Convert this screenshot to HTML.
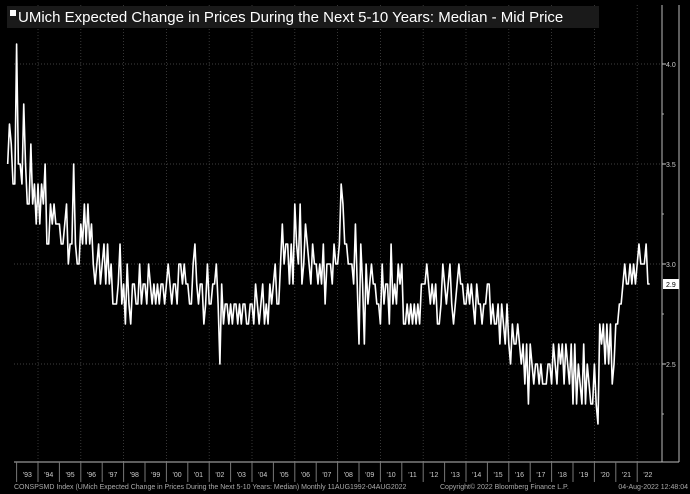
<!DOCTYPE html>
<html><head><meta charset="utf-8"><style>
html,body{margin:0;padding:0;background:#000;}
svg{display:block;font-family:"Liberation Sans",sans-serif;}
</style></head><body>
<svg id="chart" width="690" height="494" viewBox="0 0 690 494">
<rect x="0" y="0" width="690" height="494" fill="#000"/>
<g id="grid"></g>
<g id="axes"></g>
<path id="line" fill="none" stroke="#fff" stroke-width="1.6" stroke-linejoin="round"/>
<rect x="7" y="6" width="592" height="22" fill="#1a1a1a"/>
<rect x="10" y="10" width="6" height="6" fill="#fff"/>
<text x="18" y="22" fill="#fff" font-size="15">UMich Expected Change in Prices During the Next 5-10 Years: Median - Mid Price</text>
<text x="14" y="489" fill="#aaa" font-size="7">CONSPSMD Index (UMich Expected Change in Prices During the Next 5-10 Years: Median)  Monthly 11AUG1992-04AUG2022</text>
<text x="440" y="489" fill="#aaa" font-size="7">Copyright© 2022 Bloomberg Finance L.P.</text>
<text x="688" y="489" fill="#aaa" font-size="7" text-anchor="end">04-Aug-2022 12:48:04</text>
</svg>
<script>
const yTicks=[2.5,3.0,3.5,4.0];
const yTickLabels=["2.5","3.0","3.5","4.0"];
const yearLabels=["'93","'94","'95","'96","'97","'98","'99","'00","'01","'02","'03","'04","'05","'06","'07","'08","'09","'10","'11","'12","'13","'14","'15","'16","'17","'18","'19","'20","'21","'22"];
const startYear=1992, startMonth=7;
const values=[
3.5,3.7,3.6,3.4,3.4,
4.1,3.5,3.5,3.4,3.8,3.5,3.3,3.3,3.6,3.3,3.4,3.2,
3.4,3.2,3.4,3.3,3.5,3.1,3.1,3.3,3.2,3.3,3.2,3.2,
3.2,3.1,3.1,3.2,3.3,3.0,3.1,3.1,3.5,3.1,3.0,3.0,
3.2,3.1,3.3,3.1,3.3,3.1,3.2,3.0,2.9,3.0,3.1,2.9,
3.0,3.1,2.9,3.1,2.9,3.0,2.8,2.8,2.8,2.9,3.1,2.8,
2.9,2.7,3.0,2.8,2.7,2.9,2.9,2.8,2.8,3.0,2.8,2.9,
2.9,2.8,3.0,2.9,2.8,2.9,2.8,2.9,2.8,2.9,2.9,2.8,
2.9,3.0,2.9,2.8,2.9,2.9,2.8,3.0,3.0,2.9,3.0,2.9,
2.9,2.8,2.8,3.0,3.1,2.9,2.8,2.9,2.9,2.7,2.8,3.0,
2.8,2.8,2.9,2.9,3.0,2.8,2.5,2.9,2.7,2.8,2.8,2.7,
2.8,2.7,2.8,2.8,2.7,2.8,2.7,2.8,2.8,2.7,2.7,2.8,
2.8,2.7,2.9,2.8,2.7,2.8,2.9,2.7,2.8,2.7,2.9,2.8,
2.9,3.0,2.8,2.8,3.0,3.2,3.0,3.1,3.1,2.9,3.1,2.9,
3.3,3.1,3.0,3.3,2.9,3.0,3.2,3.1,3.0,2.9,3.1,3.0,
3.0,2.9,3.0,2.9,3.1,2.8,3.0,3.0,3.0,2.9,3.1,3.0,
3.0,3.1,3.4,3.3,3.1,3.1,3.0,3.0,3.0,2.9,3.2,2.9,
2.6,3.1,2.9,2.6,3.0,2.8,2.9,3.0,2.9,2.9,2.8,2.8,
2.7,3.0,2.8,2.9,2.9,2.7,3.1,2.8,2.9,2.8,3.0,2.9,
3.0,2.7,2.7,2.8,2.7,2.8,2.7,2.8,2.7,2.8,2.7,2.9,
2.9,2.9,3.0,2.9,2.8,2.9,2.8,2.9,2.7,2.7,2.8,3.0,
2.9,2.8,2.9,3.0,2.8,2.7,2.8,2.9,3.0,2.9,2.9,2.8,
2.8,2.9,2.8,2.9,2.8,2.7,2.9,2.8,2.8,2.7,2.8,2.8,
2.9,2.9,2.7,2.8,2.7,2.7,2.8,2.6,2.8,2.7,2.6,2.8,
2.6,2.5,2.7,2.6,2.6,2.7,2.6,2.5,2.6,2.4,2.6,2.3,
2.6,2.5,2.4,2.5,2.5,2.4,2.5,2.4,2.4,2.4,2.5,2.5,
2.4,2.6,2.5,2.4,2.6,2.5,2.6,2.4,2.6,2.5,2.4,2.6,
2.3,2.6,2.3,2.5,2.4,2.3,2.6,2.3,2.5,2.4,2.3,2.3,
2.5,2.3,2.2,2.7,2.6,2.7,2.5,2.7,2.5,2.7,2.4,2.5,
2.7,2.7,2.8,2.8,2.9,3.0,2.9,2.9,3.0,2.9,3.0,2.9,
3.0,3.1,3.0,3.0,3.0,3.1,2.9,2.9
];
const NS="http://www.w3.org/2000/svg";
const L=14,R=660,T=40,B=462,AX=662;
function xScale(t){return 16.6+(t-1993)*21.4;}
function yScale(v){return 264-(v-3)*200;}
const grid=document.getElementById('grid'),axes=document.getElementById('axes');
function mk(tag,attrs,parent){const e=document.createElementNS(NS,tag);for(const k in attrs)e.setAttribute(k,attrs[k]);parent.appendChild(e);return e;}
yTicks.forEach((v,i)=>{
  const g=mk('line',{x1:L,x2:AX,y1:yScale(v),y2:yScale(v),stroke:'#555','stroke-dasharray':'1,2','stroke-width':0.8},grid);
  
  
  const tk=mk('line',{x1:AX,x2:AX+4,y1:yScale(v),y2:yScale(v),stroke:'#ccc'},axes);
  
  
  const t=mk('text',{x:AX+4,y:yScale(v)+3,fill:'#ccc','font-size':7},axes);
  t.textContent=yTickLabels[i];
  
  
});
[2.25,2.75,3.25,3.75].forEach(v=>{const tk=mk('line',{x1:AX,x2:AX+2,y1:yScale(v),y2:yScale(v),stroke:'#aaa'},axes);
  
  });
for(let y=1994;y<=2022;y+=2){
  const g=mk('line',{x1:xScale(y),x2:xScale(y),y1:T-35,y2:B,stroke:'#444','stroke-dasharray':'1,2','stroke-width':0.8},grid);
  
  
}
const a1=mk('line',{x1:AX,x2:AX,y1:5,y2:B,stroke:'#bbb'},axes);


const a0=mk('line',{x1:679,x2:679,y1:5,y2:B,stroke:'#bbb'},axes);


const a2=mk('line',{x1:L,x2:679,y1:B,y2:B,stroke:'#bbb'},axes);


yearLabels.forEach((lab,i)=>{
  const yr=1993+i;
  const tk=mk('line',{x1:xScale(yr),x2:xScale(yr),y1:B,y2:B+20,stroke:'#777'},axes);
  
  
  const t=mk('text',{x:xScale(yr+0.5),y:B+15,fill:'#ccc','font-size':7,'text-anchor':'middle'},axes);
  t.textContent=lab;
  
  
});
let d='';
values.forEach((v,i)=>{const t=startYear+(startMonth+i)/12;d+=(i?'L':'M')+xScale(t).toFixed(2)+','+yScale(v).toFixed(2);});
document.getElementById('line').setAttribute('d',d);
const last=values[values.length-1];
const bx=mk('rect',{x:AX+1,y:yScale(last)-5,width:16,height:10,fill:'#fff'},axes);


const bt=mk('text',{x:AX+4,y:yScale(last)+3,fill:'#000','font-size':7},axes);
bt.textContent=last.toFixed(1);


</script>
</body></html>
